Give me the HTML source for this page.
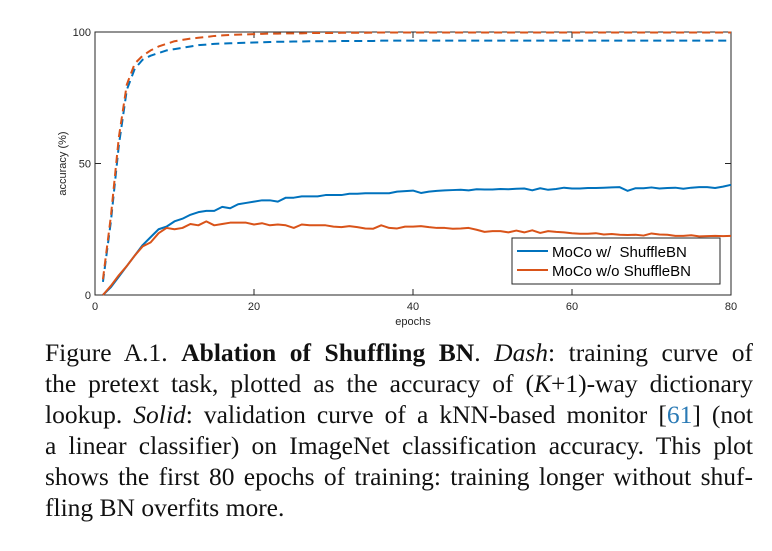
<!DOCTYPE html>
<html><head><meta charset="utf-8"><style>
body{margin:0;background:#fff;width:772px;height:551px;overflow:hidden;position:relative;font-family:"Liberation Sans",sans-serif}
#cap{position:absolute;left:45px;top:337px;width:708px;font-family:"Liberation Serif",serif;font-size:25.5px;line-height:31px;color:#111}
#cap div{text-align:justify;text-align-last:justify;white-space:nowrap;height:31px}
#cap div.last{text-align-last:left}
.ref{color:#2a7ab5}
</style></head><body>
<svg id="chart" width="772" height="335" style="position:absolute;left:0;top:0"></svg>
<div id="cap">
<div>Figure A.1. <b>Ablation of Shuffling BN</b>. <i>Dash</i>: training curve of</div>
<div>the pretext task, plotted as the accuracy of (<i>K</i>+1)-way dictionary</div>
<div>lookup. <i>Solid</i>: validation curve of a kNN-based monitor [<span class="ref">61</span>] (not</div>
<div>a linear classifier) on ImageNet classification accuracy. This plot</div>
<div>shows the first 80 epochs of training: training longer without shuf-</div>
<div class="last">fling BN overfits more.</div>
</div>
<script>
const epochs=[];for(let i=1;i<=80;i++)epochs.push(i);
const xTicks=[0,20,40,60,80];
const yTicks=[0,50,100];
const blueSolid=[0,3,7,11,15,19,22,25,26,28,29,30.5,31.5,32,32,33.5,33,34.5,35,35.5,36,36,35.5,37,37,37.5,37.5,37.5,38,38,38,38.5,38.5,38.7,38.7,38.7,38.7,39.3,39.5,39.7,38.8,39.3,39.6,39.8,39.9,40,39.8,40.2,40.1,40.1,40.3,40.2,40.4,40.5,39.8,40.6,40,40.3,40.8,40.5,40.5,40.7,40.7,40.8,40.9,41,39.6,40.6,40.6,40.9,40.5,40.7,40.8,40.4,40.8,41,41,40.7,41.2,41.9];
const redSolid=[0,3.5,7.5,11,15,18.5,20,23.5,25.5,25,25.5,27,26.5,28,26.5,27,27.5,27.5,27.5,26.8,27.3,26.5,26.8,26.5,25.5,26.8,26.5,26.5,26.5,26,25.8,26.2,25.8,25.3,25.2,26.5,25.5,25.3,26,26,26.2,25.8,25.5,25.5,25.2,25.3,25.5,24.8,24,24.3,24.3,23.8,24.5,23.8,24.6,23.6,24.3,24,23.8,23.5,23.3,23.3,23.5,23,23.2,22.9,22.8,22.9,22.6,23.4,23,22.9,22.5,22.5,22.7,22.3,22.4,22.5,22.4,22.5];
const blueDash=[5,28,57,78,86,89.5,91,92,93,93.5,94,94.5,95,95.2,95.5,95.6,95.7,95.8,95.9,96,96.1,96.2,96.3,96.3,96.4,96.4,96.5,96.5,96.5,96.5,96.6,96.6,96.6,96.6,96.6,96.7,96.7,96.7,96.7,96.7,96.7,96.7,96.7,96.7,96.7,96.7,96.7,96.7,96.7,96.7,96.7,96.7,96.7,96.7,96.7,96.7,96.7,96.7,96.7,96.7,96.7,96.7,96.7,96.7,96.7,96.7,96.7,96.7,96.7,96.7,96.7,96.7,96.7,96.7,96.7,96.7,96.7,96.7,96.7,96.7];
const redDash=[6,30,60,80,88,91,93,94.5,95.5,96.5,97,97.5,97.8,98.1,98.5,98.7,98.9,99,99.1,99.2,99.3,99.4,99.4,99.5,99.5,99.5,99.6,99.6,99.6,99.6,99.7,99.7,99.7,99.7,99.8,99.8,99.8,99.8,99.8,99.8,99.8,99.8,99.8,99.8,99.8,99.8,99.8,99.8,99.8,99.8,99.8,99.8,99.8,99.8,99.8,99.8,99.8,99.8,99.8,99.8,99.8,99.8,99.8,99.8,99.8,99.8,99.8,99.8,99.8,99.8,99.8,99.8,99.8,99.8,99.8,99.8,99.8,99.8,99.8,99.8];
const L=95,R=731,T=32,B=295;
const X=v=>L+(R-L)*v/80, Y=v=>B-(B-T)*v/100;
const svg=document.getElementById('chart');const NS='http://www.w3.org/2000/svg';
function mk(t,a){const e=document.createElementNS(NS,t);for(const k in a)e.setAttribute(k,a[k]);svg.appendChild(e);return e;}
const bg=mk('rect',{x:L,y:T,width:R-L,height:B-T,fill:'#fff',stroke:'#262626','stroke-width':1});


xTicks.forEach(t=>{
 const l=mk('line',{x1:X(t),x2:X(t),y1:B,y2:B-6,stroke:'#262626'});
 
 
 mk('line',{x1:X(t),x2:X(t),y1:T,y2:T+6,stroke:'#262626'});
 const tx=mk('text',{x:X(t),y:B+15,'font-size':11,'text-anchor':'middle',fill:'#262626'});tx.textContent=t;
 
 
});
yTicks.forEach(t=>{
 const l=mk('line',{x1:L,x2:L+6,y1:Y(t),y2:Y(t),stroke:'#262626'});
 
 
 mk('line',{x1:R,x2:R-6,y1:Y(t),y2:Y(t),stroke:'#262626'});
 const tx=mk('text',{x:L-4,y:Y(t)+4,'font-size':11,'text-anchor':'end',fill:'#262626'});tx.textContent=t;
 
 
});
const xl=mk('text',{x:(L+R)/2,y:325,'font-size':11,'text-anchor':'middle',fill:'#262626'});xl.textContent='epochs';


const yl=mk('text',{x:0,y:0,'font-size':11,'text-anchor':'middle',fill:'#262626',transform:`translate(66,${(T+B)/2}) rotate(-90)`});yl.textContent='accuracy (%)';


const series=[[blueDash,'#0072bd',true,'blue-dash-line'],[redDash,'#d95319',true,'red-dash-line'],[blueSolid,'#0072bd',false,'blue-solid-line'],[redSolid,'#d95319',false,'red-solid-line']];
series.forEach(([d,c,dash,n])=>{
 const p=mk('polyline',{points:d.map((v,i)=>X(epochs[i])+','+Y(v)).join(' '),fill:'none',stroke:c,'stroke-width':2,'stroke-dasharray':dash?'8,5':'none','stroke-linejoin':'round'});
 
 
});
const lg=mk('rect',{x:512,y:238,width:208,height:46,fill:'#fff',stroke:'#262626','stroke-width':1});


[['MoCo w/  ShuffleBN','#0072bd',252],['MoCo w/o ShuffleBN','#d95319',271]].forEach(([t,c,y])=>{
 mk('line',{x1:517,x2:548,y1:y-1,y2:y-1,stroke:c,'stroke-width':2});
 const tx=mk('text',{x:552,y:y+5,'font-size':15,fill:'#000','xml:space':'preserve'});tx.textContent=t;tx.style.whiteSpace='pre';
 
 
});
</script>
</body></html>
